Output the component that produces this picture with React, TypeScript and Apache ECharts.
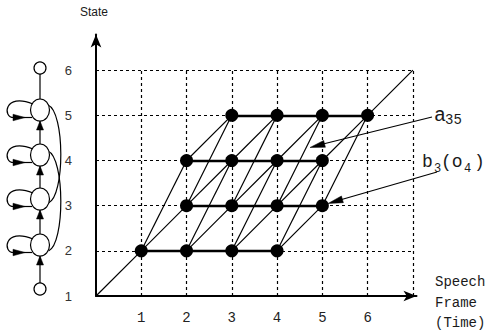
import React, { useEffect, useRef } from "react";
import * as echarts from "echarts";

// ---- data ----
const frameTicks = [1, 2, 3, 4, 5, 6];
const stateTicks = [1, 2, 3, 4, 5, 6];
const gridFrames = [1, 2, 3, 4, 5, 6, 7];
const gridStates = [2, 3, 4, 5, 6];
const gridFrameMax = 7;
const gridStateMin = 1;
const gridStateMax = 6;
const trellisStates = [2, 3, 4, 5];
const state2Frames = [1, 2, 3, 4];
const state3Frames = [2, 3, 4, 5];
const state4Frames = [2, 3, 4, 5];
const state5Frames = [3, 4, 5, 6];
const skipSteps = [1, 2];
const entryPath = [
  [0, 1],
  [1, 2],
];
const exitPath = [
  [6, 5],
  [7, 6],
];

// ---- derived ----
const rows = [state2Frames, state3Frames, state4Frames, state5Frames];
const nodes: number[][] = rows.flatMap((frames, i) => frames.map((t) => [t, trellisStates[i]]));
const exists = (t: number, s: number) => nodes.some((n) => n[0] === t && n[1] === s);
const diagonals = nodes.flatMap(([t, s]) =>
  skipSteps.filter((d) => exists(t + 1, s + d)).map((d) => ({ coords: [[t, s], [t + 1, s + d]] }))
);
const selfLoops = rows.map((frames, i) => ({
  coords: [
    [frames[0], trellisStates[i]],
    [frames[frames.length - 1], trellisStates[i]],
  ],
}));
const gridLines = [
  ...gridStates.map((s) => ({ coords: [[0, s], [gridFrameMax, s]] })),
  ...gridFrames.map((t) => ({ coords: [[t, gridStateMin], [t, gridStateMax]] })),
];

// ---- drawing helpers (annotation / diagram geometry) ----
function arrowHead(x1: number, y1: number, x2: number, y2: number, len: number, w: number) {
  const dx = x2 - x1;
  const dy = y2 - y1;
  const L = Math.hypot(dx, dy);
  const ux = dx / L;
  const uy = dy / L;
  const bx = x2 - ux * len;
  const by = y2 - uy * len;
  const px = -uy;
  const py = ux;
  return {
    type: "polygon",
    silent: true,
    z: 20,
    shape: {
      points: [
        [x2, y2],
        [bx + (px * w) / 2, by + (py * w) / 2],
        [bx - (px * w) / 2, by - (py * w) / 2],
      ],
    },
    style: { fill: "#000", stroke: "#000", lineWidth: 0.5 },
  };
}
function seg(x1: number, y1: number, x2: number, y2: number, lw = 1.2) {
  return {
    type: "line",
    silent: true,
    z: 20,
    shape: { x1, y1, x2, y2 },
    style: { stroke: "#000", lineWidth: lw },
  };
}
function txt(x: number, y: number, text: string, size: number, family: string, align = "left") {
  return {
    type: "text",
    silent: true,
    z: 20,
    x,
    y,
    style: {
      text,
      fontSize: size,
      fontFamily: family,
      fill: "#1a1a1a",
      align,
      verticalAlign: "middle",
    },
  };
}

function buildGraphic() {
  const el: any[] = [];
  const cx = 40;
  const chainY = [289, 245, 199, 155, 110, 68]; // states 1..6
  const rx = 9.5;
  const ry = 11;
  const small = 6;
  // vertical connectors
  el.push(seg(cx, chainY[0] - small, cx, chainY[1] + ry));
  el.push(arrowHead(cx, chainY[0] - small, cx, chainY[1] + ry, 9, 7));
  for (let i = 1; i < 4; i++) {
    el.push(seg(cx, chainY[i] - ry, cx, chainY[i + 1] + ry));
    el.push(arrowHead(cx, chainY[i] - ry, cx, chainY[i + 1] + ry, 9, 7));
  }
  el.push(seg(cx, chainY[4] - ry, cx, chainY[5] + small));
  // self loops
  for (let i = 1; i <= 4; i++) {
    const cy = chainY[i];
    el.push({
      type: "bezierCurve",
      silent: true,
      z: 20,
      shape: { x1: 33, y1: cy - 6, cpx1: 4, cpy1: cy - 18, cpx2: 2, cpy2: cy + 8, x2: 14, y2: cy + 7.5 },
      style: { stroke: "#000", lineWidth: 1.2, fill: null },
    });
    el.push(seg(14, cy + 7.5, 32, cy + 7.5));
    el.push(arrowHead(13, cy + 7.5, 25, cy + 7.5, 12, 6.5));
  }
  // skip arcs
  const arcs = [
    [chainY[4] - 5, chainY[2] + 4],
    [chainY[3] - 4, chainY[1] + 6],
  ];
  arcs.forEach(([ya, yb]) => {
    el.push({
      type: "bezierCurve",
      silent: true,
      z: 20,
      shape: { x1: 48, y1: ya, cpx1: 65, cpy1: ya + 7, cpx2: 65, cpy2: yb - 7, x2: 48.5, y2: yb },
      style: { stroke: "#000", lineWidth: 1.2, fill: null },
    });
  });
  // circles
  el.push({ type: "circle", silent: true, z: 21, shape: { cx, cy: chainY[0], r: small }, style: { fill: "#fff", stroke: "#000", lineWidth: 1.2 } });
  el.push({ type: "circle", silent: true, z: 21, shape: { cx, cy: chainY[5], r: small }, style: { fill: "#fff", stroke: "#000", lineWidth: 1.2 } });
  for (let i = 1; i <= 4; i++) {
    el.push({ type: "ellipse", silent: true, z: 21, shape: { cx, cy: chainY[i], rx, ry }, style: { fill: "#fff", stroke: "#000", lineWidth: 1.2 } });
  }
  // axis titles
  el.push(txt(94, 12, "State", 12, "Liberation Sans", "center"));
  el.push(txt(435, 282, "Speech", 14, "Liberation Mono"));
  el.push(txt(435, 303, "Frame", 14, "Liberation Mono"));
  el.push(txt(435, 323, "(Time)", 14, "Liberation Mono"));
  // annotations
  el.push(txt(434, 115, "a", 20, "Liberation Mono"));
  el.push(txt(445, 120, "35", 14, "Liberation Mono"));
  el.push(seg(432, 117, 315, 146));
  el.push(arrowHead(432, 117, 310, 147.5, 15, 7));
  el.push(txt(422, 162, "b", 18, "Liberation Mono"));
  el.push(txt(434, 169, "3", 12, "Liberation Mono"));
  el.push(txt(441, 162, "(o", 18, "Liberation Mono"));
  el.push(txt(464, 169, "4", 12, "Liberation Mono"));
  el.push(txt(474, 162, ")", 18, "Liberation Mono"));
  el.push(seg(437, 172, 333, 202));
  el.push(arrowHead(437, 172, 328, 203.5, 15, 7));
  return el;
}

export default function App() {
  const ref = useRef<HTMLDivElement>(null);
  useEffect(() => {
    if (!ref.current) return;
    const chart = echarts.init(ref.current, null, { renderer: "svg" });
    const option: any = {
      animation: false,
      backgroundColor: "#ffffff",
      grid: { left: 96, top: 34.5, right: 71.5, bottom: 35, containLabel: false },
      xAxis: {
        type: "value",
        min: 0,
        max: 7.08,
        interval: 1,
        axisLine: {
          show: true,
          onZero: false,
          symbol: ["none", "arrow"],
          symbolSize: [8, 13],
          lineStyle: { color: "#000", width: 2 },
        },
        axisTick: { show: false },
        splitLine: { show: false },
        axisLabel: {
          margin: 15,
          color: "#222",
          fontFamily: "Liberation Mono",
          fontSize: 14,
          showMaxLabel: false,
          formatter: (v: number) => (frameTicks.includes(v) ? String(v) : ""),
        },
      },
      yAxis: {
        type: "value",
        min: 1,
        max: 6.79,
        interval: 1,
        axisLine: {
          show: true,
          onZero: false,
          symbol: ["none", "arrow"],
          symbolSize: [8, 13],
          lineStyle: { color: "#000", width: 2 },
        },
        axisTick: { show: false },
        splitLine: { show: false },
        axisLabel: {
          margin: 24,
          color: "#333",
          fontFamily: "Liberation Sans",
          fontSize: 13,
          showMaxLabel: false,
          padding: [0, 0, 6, 0],
          formatter: (v: number) => (stateTicks.includes(v) ? String(v) : ""),
        },
      },
      series: [
        {
          type: "lines",
          coordinateSystem: "cartesian2d",
          silent: true,
          z: 1,
          lineStyle: { color: "#000", width: 1.2, type: [3, 3], opacity: 1 },
          data: gridLines,
        },
        {
          type: "lines",
          coordinateSystem: "cartesian2d",
          silent: true,
          z: 2,
          lineStyle: { color: "#000", width: 1.2, opacity: 1 },
          data: [...diagonals, { coords: entryPath }, { coords: exitPath }],
        },
        {
          type: "lines",
          coordinateSystem: "cartesian2d",
          silent: true,
          z: 3,
          lineStyle: { color: "#000", width: 2.4, opacity: 1 },
          data: selfLoops,
        },
        {
          type: "scatter",
          silent: true,
          z: 4,
          symbol: "circle",
          symbolSize: 13,
          itemStyle: { color: "#000", opacity: 1 },
          data: nodes,
        },
      ],
      graphic: { elements: buildGraphic() },
    };
    chart.setOption(option);
    return () => chart.dispose();
  }, []);
  return (
    <div
      ref={ref}
      style={{ position: "fixed", left: 0, top: 0, width: 488, height: 331, background: "#fff" }}
    />
  );
}
